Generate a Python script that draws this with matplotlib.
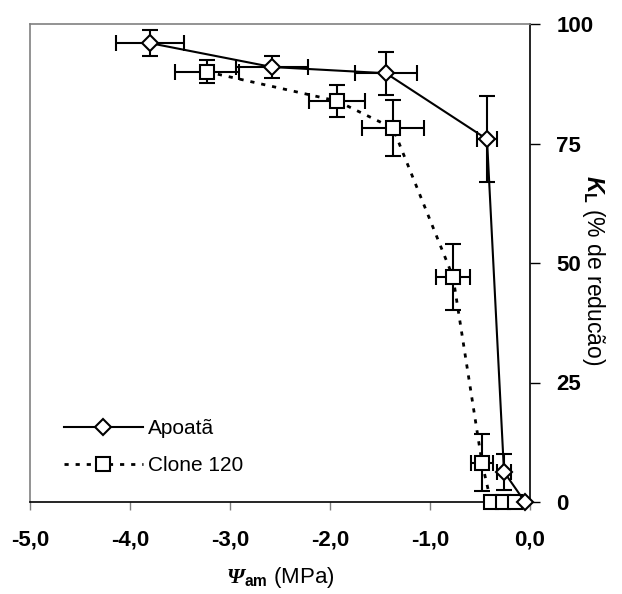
import matplotlib.pyplot as plt
from matplotlib.lines import Line2D
from matplotlib.ticker import FixedLocator, FuncFormatter

plt.rcParams['font.family'] = ['Liberation Sans', 'DejaVu Sans']
plt.rcParams['mathtext.fontset'] = 'custom'
plt.rcParams['mathtext.bf'] = 'Liberation Serif:bold:italic'
plt.rcParams['mathtext.it'] = 'Liberation Sans:bold:italic'
plt.rcParams['mathtext.sf'] = 'Liberation Sans:bold'
plt.rcParams['mathtext.rm'] = 'Liberation Sans'

# Apoatã
apo_x = [-3.80, -2.58, -1.44, -0.43, -0.26, -0.05]
apo_y = [96.0, 91.0, 89.7, 75.9, 6.3, 0.0]
apo_xerr = [0.34, 0.36, 0.31, 0.10, 0.07, 0.0]
apo_yerr = [2.7, 2.3, 4.5, 9.0, 3.8, 0.0]

# Clone 120
cl_x = [-3.23, -1.93, -1.37, -0.77, -0.48, -0.39, -0.27, -0.15]
cl_y = [90.0, 83.9, 78.2, 47.1, 8.2, 0.0, 0.0, 0.0]
cl_xerr = [0.32, 0.28, 0.31, 0.17, 0.11, 0.0, 0.0, 0.0]
cl_yerr = [2.4, 3.4, 5.8, 6.9, 6.0, 0.0, 0.0, 0.0]

x_ticks = [-5, -4, -3, -2, -1, 0]
y_ticks = [0, 25, 50, 75, 100]

fig = plt.figure(figsize=(6.22, 5.94), dpi=100)
ax = fig.add_axes([30 / 622, 92 / 594, 500 / 622, 478 / 594])


def draw_series(x, y, xe, ye, ls, lw, mk, ms, z):
    # only points that have error bars get them
    idx = [i for i in range(len(x)) if xe[i] > 0 or ye[i] > 0]
    ax.errorbar([x[i] for i in idx], [y[i] for i in idx],
                xerr=[xe[i] for i in idx], yerr=[ye[i] for i in idx],
                fmt='none', ecolor='black', elinewidth=1.5, capsize=5.5,
                capthick=1.5, clip_on=False, zorder=z)
    ax.plot(x, y, color='black', linestyle=ls, linewidth=lw, marker=mk,
            markersize=ms, mfc='white', mec='black', mew=1.5, clip_on=False,
            zorder=z + 0.5)


draw_series(cl_x, cl_y, cl_xerr, cl_yerr, (0, (1.5, 2.5)), 2, 's', 9.5, 3)
draw_series(apo_x, apo_y, apo_xerr, apo_yerr, '-', 1.5, 'D', 8, 4)

ax.set_xlim(-5, 0)
ax.set_ylim(0, 100)

ax.spines['top'].set_color('#808080')
ax.spines['left'].set_color('#808080')
ax.spines['right'].set_color('black')
ax.spines['bottom'].set_color('black')
for s in ax.spines.values():
    s.set_linewidth(1.2)

ax.xaxis.set_major_locator(FixedLocator(x_ticks))
ax.xaxis.set_major_formatter(FuncFormatter(lambda v, p: f'{v:.1f}'.replace('.', ',')))
ax.yaxis.set_major_locator(FixedLocator(y_ticks))
ax.yaxis.tick_right()
ax.tick_params(axis='x', direction='out', length=6, width=1, color='#808080',
               labelsize=16, pad=14)
ax.tick_params(axis='y', direction='out', length=7, width=1, color='black',
               labelsize=16, pad=12)
for lab in ax.get_xticklabels() + ax.get_yticklabels():
    lab.set_fontweight('bold')

ax.set_xlabel(r'$\mathbf{\Psi}_{\mathsf{am}}$ (MPa)', fontsize=16, labelpad=10)
ax.yaxis.set_label_position('right')
ax.set_ylabel(r'$K_{\mathsf{L}}$ (% de reducão)', fontsize=16.5, rotation=-90,
              va='center', ha='center')
ax.yaxis.set_label_coords(1.126, 0.485)

handles = [
    Line2D([], [], color='black', linestyle='-', linewidth=1.5, marker='D',
           markersize=8, mfc='white', mec='black', mew=1.5),
    Line2D([], [], color='black', linestyle=(0, (1.5, 2.5)), linewidth=2,
           marker='s', markersize=9.5, mfc='white', mec='black', mew=1.5),
]
ax.legend(handles, ['Apoatã', 'Clone 120'], loc='lower left',
          bbox_to_anchor=(0.03, 0.017), frameon=False, fontsize=15,
          handlelength=3.8, handletextpad=0.25, labelspacing=0.85)

fig.savefig('out.png', dpi=100)
